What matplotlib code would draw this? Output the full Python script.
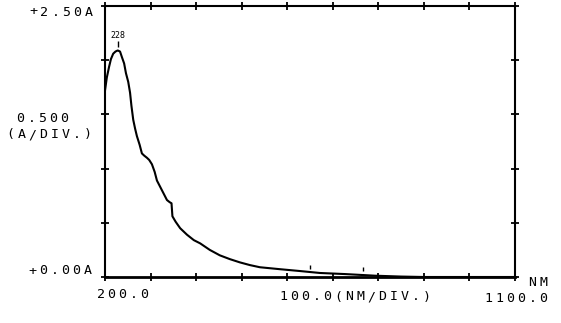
import matplotlib
matplotlib.use("Agg")
from matplotlib import pyplot as plt

# spectrum (nm, absorbance)
wavelength = [200, 204, 209, 213, 218, 223, 228, 233, 237, 242, 246, 251, 255,
              258, 262, 266, 270, 276, 281, 286, 292, 297, 303, 309, 314, 325,
              336, 342, 346, 347, 348, 355, 365, 380, 395, 409, 430, 452, 474,
              496, 518, 540, 584, 628, 672, 727, 793, 850, 900, 1000, 1100]
absorbance = [1.72, 1.84, 1.94, 2.01, 2.06, 2.08, 2.09, 2.08, 2.03, 1.97, 1.88,
              1.80, 1.70, 1.58, 1.45, 1.37, 1.30, 1.22, 1.14, 1.12, 1.10, 1.08,
              1.04, 0.97, 0.89, 0.80, 0.71, 0.69, 0.68, 0.62, 0.56, 0.51, 0.45,
              0.39, 0.34, 0.31, 0.25, 0.20, 0.165, 0.135, 0.11, 0.09, 0.072,
              0.055, 0.037, 0.027, 0.012, 0.004, 0.0, 0.0, 0.0]

peak_nm = 228
peak_label = "228"
event_nm = [650, 766]
event_lo = [0.07, 0.055]
event_hi = [0.115, 0.095]

x_ticks = [200, 300, 400, 500, 600, 700, 800, 900, 1000, 1100]
y_ticks = [0.0, 0.5, 1.0, 1.5, 2.0, 2.5]

W, H = 561, 323
fig = plt.figure(figsize=(W / 100, H / 100), dpi=100)
ax = fig.add_axes([105 / W, (H - 277) / H, 410 / W, 271 / H])

ax.plot(wavelength, absorbance, color='black', linewidth=1.5)
ax.vlines(event_nm, event_lo, event_hi, color='black', linewidth=1.0)

pk = absorbance[wavelength.index(peak_nm)]
ax.vlines([peak_nm], pk + 0.03, pk + 0.09, color='black', linewidth=1.0)
ax.text(peak_nm, pk + 0.1, peak_label, ha='center', va='bottom',
        fontsize=6, family='DejaVu Sans Mono')

ax.set_xlim(200, 1100)
ax.set_ylim(0, 2.5)
ax.set_xticks(x_ticks)
ax.set_yticks(y_ticks)
ax.tick_params(direction='inout', length=6, width=1.3,
               top=True, right=True, labelbottom=False, labelleft=False)
for s in ax.spines.values():
    s.set_linewidth(1.5)
ax.spines['bottom'].set_linewidth(2)


def mono(s, x0, yc, pitch=11.0, size=9.5):
    # plotter style text with a fixed character pitch, pixel coords
    for i, ch in enumerate(s):
        fig.text((x0 + pitch * (i + 0.5)) / W, 1 - yc / H, ch,
                 ha='center', va='center', fontsize=size,
                 family='DejaVu Sans Mono')


mono("+2.50A", 28, 12)
mono("0.500", 15, 119)
mono("(A/DIV.)", 5, 135)
mono("+0.00A", 27, 271)
mono("200.0", 95, 295)
mono("100.0(NM/DIV.)", 278, 297)
mono("NM", 527, 282)
mono("1100.0", 483, 298)

plt.savefig('out.png', dpi=100, facecolor='white')
